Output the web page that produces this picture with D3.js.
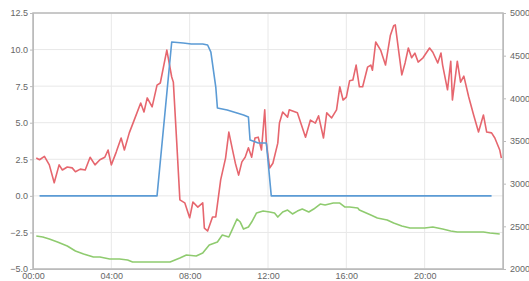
<!DOCTYPE html>
<html>
<head>
<meta charset="utf-8">
<script src="https://cdn.jsdelivr.net/npm/d3@7"></script>
<style>
  body { margin: 0; background: #fff; }
  svg { display: block; font-family: Lato, "Open Sans", sans-serif; }
  .tick text { fill: #666; font-size: 9px; }
</style>
</head>
<body>
<script>
const margin = {top: 13, bottom: 12, left: 33, right: 26};
const width = 529 - margin.left - margin.right;
const height = 281 - margin.top - margin.bottom;

// left axis series (blue, green), right axis series (red)
const blueTimes = ["00:20","06:20","07:05","07:40","08:05","08:40","08:55","09:05","09:20","09:25","09:55","10:25","10:45","11:00","11:05","11:30","11:55","12:10","23:25"];
const blueValues = [0,0,10.52,10.45,10.38,10.38,10.31,9.83,7.44,6.01,5.87,5.66,5.53,5.39,3.82,3.61,3.61,0,0];

const greenTimes = ["00:10","00:30","00:50","01:15","01:45","02:10","02:35","03:05","03:25","03:55","04:25","04:50","05:05","06:00","07:00","07:30","07:50","08:20","08:40","09:00","09:25","09:40","10:00","10:10","10:25","10:35","10:45","11:00","11:10","11:25","11:45","12:05","12:20","12:30","12:45","13:00","13:15","13:30","13:45","14:05","14:20","14:40","14:55","15:20","15:40","15:55","16:10","16:35","16:40","17:15","17:35","18:05","18:25","18:50","19:15","19:35","20:00","20:25","20:55","21:20","21:40","22:20","23:00","23:20","23:50"];
const greenValues = [-2.74,-2.81,-2.95,-3.15,-3.43,-3.77,-3.97,-4.18,-4.18,-4.32,-4.32,-4.39,-4.52,-4.52,-4.52,-4.25,-4.04,-4.11,-3.91,-3.36,-3.15,-2.68,-2.81,-2.33,-1.58,-1.79,-2.27,-2.13,-1.79,-1.17,-1.04,-1.10,-1.17,-1.45,-1.10,-0.97,-1.24,-1.04,-0.90,-1.10,-0.90,-0.56,-0.63,-0.49,-0.49,-0.76,-0.76,-0.83,-0.97,-1.31,-1.51,-1.65,-1.86,-2.06,-2.20,-2.20,-2.20,-2.13,-2.27,-2.40,-2.47,-2.47,-2.47,-2.54,-2.61];

const redTimes = ["00:10","00:20","00:35","00:50","01:05","01:20","01:30","01:45","02:00","02:10","02:25","02:40","02:55","03:10","03:25","03:40","03:50","04:00","04:15","04:30","04:40","04:55","05:10","05:30","05:40","05:50","06:05","06:20","06:30","06:50","07:05","07:10","07:20","07:30","07:45","08:00","08:10","08:25","08:40","08:45","08:55","09:10","09:20","09:35","09:50","10:00","10:10","10:20","10:30","10:40","10:50","11:00","11:10","11:20","11:30","11:40","11:50","11:55","12:05","12:15","12:30","12:35","12:45","13:00","13:05","13:30","13:55","14:10","14:25","14:35","14:50","15:00","15:15","15:30","15:40","15:50","16:00","16:10","16:20","16:30","16:40","16:50","17:05","17:15","17:20","17:30","17:45","18:00","18:15","18:25","18:30","18:40","18:50","19:00","19:10","19:20","19:30","19:40","19:55","20:15","20:25","20:40","20:50","20:55","21:10","21:20","21:25","21:40","21:50","22:00","22:15","22:30","22:45","23:00","23:10","23:25","23:35","23:50","23:55"];
const redValues = [3300,3280,3320,3220,3010,3220,3160,3195,3185,3140,3170,3160,3310,3220,3280,3310,3395,3220,3370,3535,3395,3595,3745,3945,3840,4005,3900,4155,4180,4565,4250,4190,3510,2810,2775,2600,2785,2725,2775,2480,2445,2610,2610,3045,3300,3605,3420,3240,3100,3255,3310,3420,3310,3535,3545,3395,3865,3475,3183,3240,3475,3710,3840,3780,3865,3830,3545,3745,3710,3795,3535,3830,3770,3865,4135,3980,4015,4205,4215,4390,4135,4135,4365,4390,4330,4660,4565,4390,4740,4850,4860,4565,4275,4415,4590,4475,4530,4425,4475,4590,4540,4415,4530,4390,4100,4435,3980,4435,4190,4260,4015,3805,3605,3805,3605,3595,3535,3395,3300];

const xTickHours = [0, 4, 8, 12, 16, 20];
const leftTicks = [-5, -2.5, 0, 2.5, 5, 7.5, 10, 12.5];
const rightTicks = [2000, 2500, 3000, 3500, 4000, 4500, 5000];

const parse = d3.timeParse("%H:%M");
const day0 = parse("00:00");

const svg = d3.select('body').append('svg')
    .attr('width', 529)
    .attr('height', 281);

const g = svg.append('g')
    .attr('transform', `translate(${margin.left},${margin.top})`);

const x = d3.scaleTime()
    .domain([day0, d3.timeDay.offset(day0, 1)])
    .range([0, width]);
const yL = d3.scaleLinear().domain([-5, 12.5]).range([height, 0]);
const yR = d3.scaleLinear().domain([2000, 5000]).range([height, 0]);

const xTicks = xTickHours.map(h => d3.timeHour.offset(day0, h));

// grid
g.append('g').selectAll('line').data(leftTicks).join('line')
    .attr('x1', 0).attr('x2', width)
    .attr('y1', d => yL(d)).attr('y2', d => yL(d))
    .attr('stroke', '#e8e8e8');
g.append('g').selectAll('line').data(xTicks).join('line')
    .attr('y1', 0).attr('y2', height)
    .attr('x1', d => x(d)).attr('x2', d => x(d))
    .attr('stroke', '#e8e8e8');

// frame
g.append('rect')
    .attr('width', width).attr('height', height)
    .attr('fill', 'none').attr('stroke', '#bbb').attr('stroke-width', 1.5);

function addLine(times, values, y, color) {
  const pts = times.map((t, i) => [parse(t), values[i]]);
  g.append('path')
      .datum(pts)
      .attr('fill', 'none')
      .attr('stroke', color)
      .attr('stroke-width', 1.6)
      .attr('stroke-linejoin', 'round')
      .attr('d', d3.line().x(d => x(d[0])).y(d => y(d[1])));
}

addLine(greenTimes, greenValues, yL, '#8fcb6f');
addLine(redTimes, redValues, yR, '#e6666e');
addLine(blueTimes, blueValues, yL, '#5b9bd5');

// axes
const axL = g.append('g')
    .call(d3.axisLeft(yL).tickValues(leftTicks).tickFormat(d3.format('.1f')).tickSize(3).tickPadding(2));
const axR = g.append('g')
    .attr('transform', `translate(${width},0)`)
    .call(d3.axisRight(yR).tickValues(rightTicks).tickFormat(d3.format('d')).tickSize(3).tickPadding(4));
const axB = g.append('g')
    .attr('transform', `translate(0,${height})`)
    .call(d3.axisBottom(x).tickValues(xTicks).tickFormat(d3.timeFormat('%H:%M')).tickSize(0).tickPadding(4));

[axL, axR, axB].forEach(a => {
  a.select('.domain').attr('stroke', '#bbb');
  a.selectAll('.tick line').attr('stroke', '#bbb');
});
</script>
</body>
</html>
